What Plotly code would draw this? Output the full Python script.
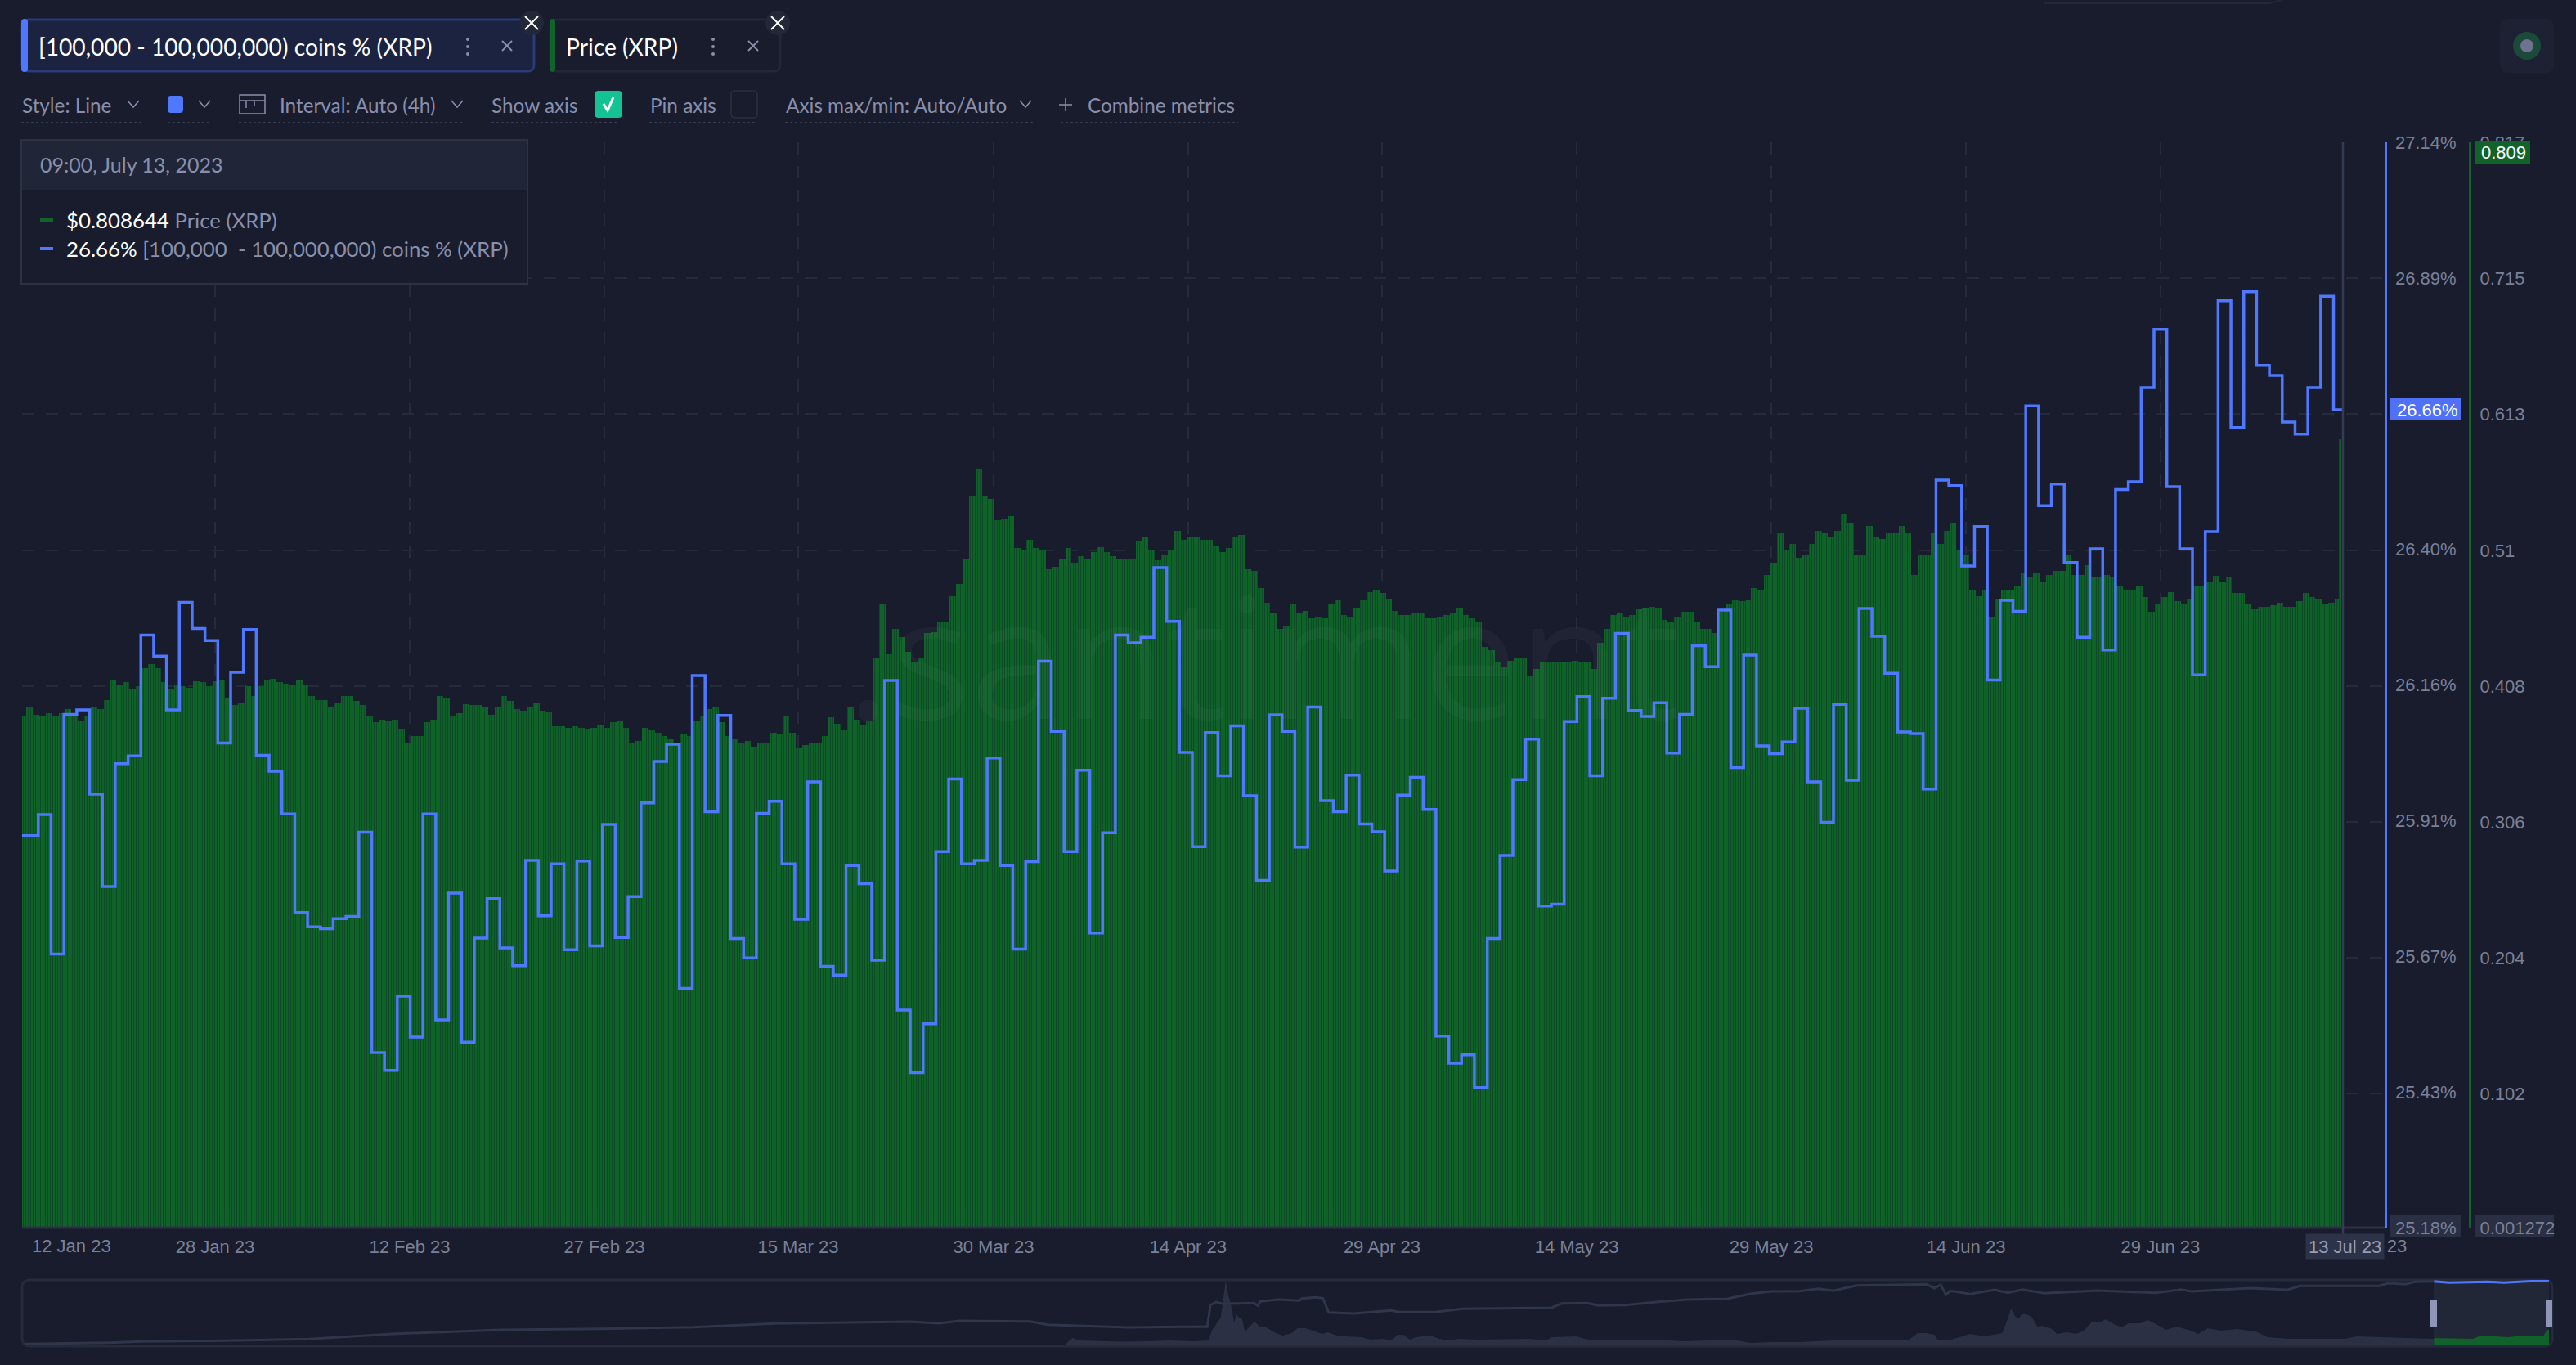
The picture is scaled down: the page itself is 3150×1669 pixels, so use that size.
"""XRP whale-tier supply share vs price, dashboard style screenshot."""

import pandas as pd
import plotly.graph_objects as go

W, H = 3150, 1669
BG = "#181c2d"
GRID = "#262b3c"
BLUE = "#4f78ff"
GREEN = "#10632a"
GREY_TXT = "#8a8fab"
TICK_TXT = "#7b8197"
UI_FONT = "Lato"
TICK_FONT = "Liberation Sans"

# supply share, one value per day (%)
share_jan_mar = [
    25.888, 25.926, 25.674, 26.107, 26.115, 25.963, 25.796, 26.018, 26.032, 26.250,
    26.212, 26.115, 26.309, 26.262, 26.240, 26.055, 26.183, 26.260, 26.033, 26.004,
    25.927, 25.749, 25.723, 25.720, 25.738, 25.742, 25.894, 25.496, 25.464, 25.598,
    25.524, 25.927, 25.555, 25.784, 25.515, 25.703, 25.774, 25.685, 25.653, 25.843,
    25.743, 25.837, 25.682, 25.842, 25.689, 25.908, 25.704, 25.778, 25.947, 26.022,
    26.053, 25.612, 26.177, 25.931, 26.105, 25.702, 25.667, 25.928, 25.950, 25.837,
    25.737, 25.985,
]
share_mar_may = [
    25.652, 25.636, 25.834, 25.801, 25.663, 26.168, 25.573, 25.460, 25.548, 25.859,
    25.990, 25.837, 25.843, 26.028, 25.834, 25.683, 25.841, 26.203, 26.076, 25.859,
    26.006, 25.712, 25.893, 26.250, 26.236, 26.246, 26.372, 26.275, 26.038, 25.868,
    26.074, 25.996, 26.086, 25.960, 25.807, 26.106, 26.076, 25.867, 26.120, 25.951,
    25.931, 25.997, 25.909, 25.895, 25.824, 25.961, 25.993, 25.935, 25.526, 25.477,
    25.492, 25.433, 25.702, 25.852, 25.989, 26.062, 25.761, 25.764, 26.094, 26.139,
    25.996, 26.136, 26.253, 26.114,
]
share_may_jul = [
    26.103, 26.128, 26.037, 26.107, 26.231, 26.193, 26.295, 26.011, 26.214, 26.050,
    26.036, 26.057, 26.118, 25.985, 25.912, 26.125, 25.988, 26.298, 26.248, 26.181,
    26.075, 26.072, 25.972, 26.530, 26.520, 26.375, 26.446, 26.169, 26.313, 26.293,
    26.664, 26.484, 26.523, 26.381, 26.246, 26.406, 26.223, 26.513, 26.527, 26.697,
    26.802, 26.518, 26.406, 26.178, 26.437, 26.854, 26.625, 26.870, 26.737, 26.719,
    26.635, 26.613, 26.697, 26.862, 26.657,
]

# price, read every 12 hours (USD)
price_jan_mar = [
    .386, .393, .387, .386, .388, .386, .388, .391, .386, .382,
    .386, .393, .391, .398, .413, .409, .411, .406, .408, .422,
    .425, .422, .411, .406, .409, .408, .407, .412, .411, .408,
    .412, .413, .399, .394, .396, .408, .401, .408, .413, .414,
    .411, .410, .409, .413, .409, .401, .398, .398, .393, .396,
    .401, .401, .397, .394, .386, .381, .383, .382, .383, .376,
    .365, .371, .371, .381, .383, .401, .399, .386, .388, .395,
    .394, .394, .393, .387, .393, .401, .397, .391, .390, .392,
    .396, .390, .389, .378, .378, .377, .378, .377, .376, .377,
    .379, .377, .381, .382, .377, .365, .367, .377, .375, .373,
    .371, .368, .365, .372, .371, .382, .386, .391, .393, .381,
    .371, .369, .365, .367, .363, .365, .365, .373, .372, .386,
    .373, .362, .364, .365,
]
price_mar_may = [
    .366, .371, .385, .380, .375, .393, .383, .379, .382, .429,
    .470, .432, .451, .445, .434, .426, .429, .448, .449, .457,
    .457, .476, .485, .504, .551, .572, .551, .549, .533, .534,
    .536, .512, .510, .518, .512, .510, .496, .498, .504, .512,
    .501, .506, .504, .509, .513, .509, .506, .504, .504, .504,
    .517, .520, .510, .503, .507, .510, .525, .518, .520, .520,
    .518, .518, .514, .509, .512, .520, .522, .496, .495, .482,
    .471, .463, .451, .454, .470, .463, .465, .459, .460, .459,
    .470, .473, .462, .460, .467, .473, .479, .480, .478, .474,
    .465, .462, .462, .463, .463, .459, .459, .460, .462, .463,
    .467, .462, .459, .457, .438, .435, .426, .423, .427, .429,
    .429, .416, .421, .426, .426, .426, .426, .426, .427, .426,
    .426, .421, .441, .451, .462, .463, .460, .462,
]
price_may_jul = [
    .466, .467, .468, .467, .458, .456, .460, .464, .464, .456,
    .451, .451, .448, .464, .470, .473, .472, .473, .482, .480,
    .492, .501, .523, .511, .515, .505, .507, .515, .525, .523,
    .521, .525, .537, .531, .507, .507, .529, .521, .519, .523,
    .523, .529, .523, .492, .507, .507, .523, .515, .525, .531,
    .511, .507, .480, .476, .480, .460, .474, .480, .480, .484,
    .493, .490, .493, .486, .492, .495, .495, .507, .492, .492,
    .499, .490, .490, .492, .490, .484, .480, .480, .483, .475,
    .464, .470, .475, .479, .472, .470, .474, .484, .484, .486,
    .491, .486, .490, .478, .478, .470, .466, .468, .468, .469,
    .471, .468, .468, .472, .478, .475, .474, .470, .471, .474,
]
price_last = 0.594

x_ticks = ["2023-01-13 10:40", "2023-01-28 11:50", "2023-02-12 16:10", "2023-02-27 20:30",
           "2023-03-14 23:10", "2023-03-30 05:10", "2023-04-14 09:15", "2023-04-29 12:05",
           "2023-05-14 16:25", "2023-05-29 20:45", "2023-06-14 01:05", "2023-06-29 05:10"]
x_labels = ["", "28 Jan 23", "12 Feb 23", "27 Feb 23", "15 Mar 23", "30 Mar 23",
            "14 Apr 23", "29 Apr 23", "14 May 23", "29 May 23", "14 Jun 23", "29 Jun 23"]
share_ticks = [25.18, 25.425, 25.67, 25.915, 26.16, 26.405, 26.65, 26.895, 27.14]
share_labels = ["25.18%", "25.43%", "25.67%", "25.91%", "26.16%", "26.40%", "", "26.89%", "27.14%"]
price_ticks = [0.001272, 0.102, 0.204, 0.306, 0.408, 0.51, 0.613, 0.715, 0.817]
price_labels = ["0.001272", "0.102", "0.204", "0.306", "0.408", "0.51", "0.613", "0.715", "0.817"]

# navigator strip: days since the start of history, heights in strip units
nav_days = [5, 136, 187, 319, 449, 580, 749, 906, 1050, 1180, 1389, 1435, 1467, 1578, 1605, 1677,
            1729, 1852, 1855, 1860, 1869, 1878, 1928, 1934, 1938, 1966, 1999, 2003, 2025, 2036,
            2045, 2084, 2143, 2155, 2214, 2254, 2339, 2394, 2410, 2450, 2467, 2509, 2561, 2606,
            2669, 2705, 2737, 2781, 2812, 2835, 2871, 2975, 2981, 2993, 3003, 3011, 3018, 3049,
            3087, 3108, 3131, 3165, 3247, 3340, 3379, 3395, 3488, 3546, 3565, 3689, 3704, 3731,
            3744, 3775]
nav_share = [1.7, 3.3, 4.7, 5.7, 7.7, 14, 19, 20.3, 22.3, 26.7, 29, 27, 30, 29.3, 25.3, 23,
             22, 23, 22.7, 49.3, 53, 51, 51.7, 48.7, 53.7, 56, 54.7, 57.3, 58.7, 57.7,
             40.3, 39, 42.7, 40.7, 41, 44.7, 45.7, 46, 51.3, 51.7, 48.7, 49.3, 53.3, 56,
             57, 63, 66, 66.3, 69.3, 66.7, 73.3, 74, 74.7, 70, 74, 62, 66.7, 62.7,
             68, 64.3, 68.3, 63.7, 67, 64.3, 68.3, 66, 70, 68, 72.7, 72.7, 76, 74.7,
             77.7, 78.3]
nav_sel_days = [3775, 3798, 3859, 3884, 3955]
nav_sel_share = [78.3, 76.7, 77.7, 76.7, 79.7]
nav_bar_days = [1631, 1644, 1655, 1687, 1719, 1758, 1796, 1834, 1857, 1862, 1871, 1876, 1880, 1884,
                1888, 1892, 1897, 1901, 1905, 1909, 1914, 1921, 1929, 1937, 1947, 1960, 1973, 1987,
                1996, 2009, 2023, 2035, 2043, 2058, 2071, 2097, 2110, 2130, 2143, 2153, 2162, 2172,
                2182, 2204, 2218, 2234, 2248, 2280, 2358, 2385, 2394, 2433, 2450, 2522, 2554, 2600,
                2678, 2705, 2737, 2781, 2852, 2952, 2967, 2981, 2993, 2999, 3018, 3049, 3072, 3099,
                3108, 3113, 3120, 3125, 3130, 3137, 3145, 3154, 3162, 3177, 3185, 3200, 3215, 3227,
                3240, 3251, 3261, 3274, 3286, 3297, 3316, 3327, 3340, 3355, 3372, 3395, 3406, 3421,
                3441, 3467, 3496, 3515, 3549, 3635, 3654, 3697, 3712, 3775]
nav_bar_price = [0, 9, 6, 5, 4.5, 5, 6, 5, 6, 18, 28, 34, 57, 79,
                 61, 50, 28, 38, 33, 34, 17, 23, 29, 23, 22, 16, 12, 15,
                 21, 21, 17, 14, 16, 12, 11, 10, 7, 8, 6, 13, 13, 7,
                 10, 12, 8, 6, 8, 7, 8, 6, 10, 11, 7, 6, 7, 5,
                 7, 3, 4, 4, 6.7, 6.3, 15, 15, 13, 6, 6.7, 14, 11, 15,
                 33, 45, 35, 33, 38, 38, 35, 23, 24, 20, 14, 16, 14, 18,
                 29, 28, 32, 26, 22, 27, 27, 31, 26, 19, 23, 18, 14, 21,
                 18, 20, 17, 10, 8, 8, 11, 10, 9, 8]
nav_sel_bar_days = [3775, 3836, 3848, 3891, 3914, 3946, 3952, 3955]
nav_sel_bar_price = [9, 8, 12, 10, 12, 11, 19, 19]

# day boundaries of the share series, the line runs on to the last sample
share = share_jan_mar + share_mar_may + share_may_jul
share_dates = pd.date_range("2023-01-13 17:00", periods=len(share), freq="D").tolist()
share_dates[0] = pd.Timestamp("2023-01-13 10:40")
share_dates.append(pd.Timestamp("2023-07-13 09:00"))
share.append(share[-1])

# 12h bars, then the final 4h candle on its own width, just left of the crosshair
price = price_jan_mar + price_mar_may + price_may_jul + [price_last]
price_dates = pd.date_range(end="2023-07-13 01:00", periods=len(price) - 1, freq="12h").tolist()
price_dates.append(pd.Timestamp("2023-07-13 05:00"))
price_widths = [43200000] * (len(price) - 1) + [14400000]


def px(x):
    return x / W


def py(y):
    return 1 - y / H


shapes = []
annotations = []


def rect(x0, y0, x1, y1, fill=None, line=None, lw=0, layer="above"):
    shapes.append(dict(type="rect", xref="paper", yref="paper", x0=px(x0), x1=px(x1), y0=py(y0), y1=py(y1),
                       fillcolor=fill, line=dict(color=line, width=lw), layer=layer))


def round_rect(x0, y0, x1, y1, r, fill=None, line=None, lw=0, layer="above"):
    p = (f"M {px(x0 + r)} {py(y0)} L {px(x1 - r)} {py(y0)} Q {px(x1)} {py(y0)} {px(x1)} {py(y0 + r)} "
         f"L {px(x1)} {py(y1 - r)} Q {px(x1)} {py(y1)} {px(x1 - r)} {py(y1)} L {px(x0 + r)} {py(y1)} "
         f"Q {px(x0)} {py(y1)} {px(x0)} {py(y1 - r)} L {px(x0)} {py(y0 + r)} Q {px(x0)} {py(y0)} {px(x0 + r)} {py(y0)} Z")
    shapes.append(dict(type="path", xref="paper", yref="paper", path=p, fillcolor=fill,
                       line=dict(color=line, width=lw), layer=layer))


def seg(pts, color, lw=2, dash=None, layer="above"):
    p = "M " + " L ".join(f"{px(x)} {py(y)}" for x, y in pts)
    shapes.append(dict(type="path", xref="paper", yref="paper", path=p,
                       line=dict(color=color, width=lw, dash=dash), layer=layer))


def circle(cx, cy, r, fill):
    shapes.append(dict(type="circle", xref="paper", yref="paper", x0=px(cx - r), x1=px(cx + r),
                       y0=py(cy + r), y1=py(cy - r), fillcolor=fill, line=dict(width=0), layer="above"))


def text(x, y, s, color=GREY_TXT, size=24.3, anchor="left", font=UI_FONT, **kw):
    annotations.append(dict(xref="paper", yref="paper", x=px(x), y=py(y), text=s, showarrow=False,
                            xanchor=anchor, yanchor="middle", font=dict(family=font, size=size, color=color), **kw))


def chevron(x, y):
    seg([(x - 7, y - 4), (x, y + 4), (x + 7, y - 4)], GREY_TXT, 1.5)


def cross(x, y, r, color, lw=2):
    seg([(x - r, y - r), (x + r, y + r)], color, lw)
    seg([(x - r, y + r), (x + r, y - r)], color, lw)


def dots(x, y):
    for dy in (-9, 0, 9):
        circle(x, y + dy, 2, GREY_TXT)


# metric chips
round_rect(27, 24, 653, 87, 8, fill="#1c2340", line="#2b3a78", lw=3)
round_rect(26, 23, 34, 88, 4, fill=BLUE)
text(45, 57, "[100,000 - 100,000,000) coins % (XRP)", color="#ffffff", size=28.2)
dots(572, 57)
cross(620, 56, 6, GREY_TXT)
circle(650, 28, 15, "#222838")
cross(650, 28, 8, "#ffffff")
round_rect(673, 24, 954, 87, 8, line="#232839", lw=3)
round_rect(672, 23, 679, 88, 4, fill=GREEN)
text(690, 57, "Price (XRP)", color="#ffffff", size=28.2)
dots(872, 57)
cross(921, 56, 6, GREY_TXT)
circle(951, 28, 15, "#222838")
cross(951, 28, 8, "#ffffff")

# control row
text(25, 128, "Style: Line")
chevron(163, 127)
round_rect(205, 117, 224, 138, 4, fill=BLUE)
chevron(250, 127)
rect(293, 116, 324, 139, line=GREY_TXT, lw=1.5)
seg([(293, 123), (324, 123)], GREY_TXT, 1.5)
seg([(301, 123), (301, 132)], GREY_TXT, 1.5)
seg([(311, 123), (311, 130)], GREY_TXT, 1.5)
text(340, 128, "Interval: Auto (4h)")
chevron(559, 127)
text(599, 128, "Show axis")
round_rect(727, 111, 761, 144, 5, fill="#14c393")
seg([(738, 127), (743, 135), (750, 119)], "#ffffff", 3)
text(793, 128, "Pin axis")
round_rect(894, 111, 926, 144, 5, line="#262b3c", lw=2)
text(959, 128, "Axis max/min: Auto/Auto")
chevron(1254, 127)
seg([(1303, 120), (1303, 136)], GREY_TXT, 1.5)
seg([(1295, 128), (1311, 128)], GREY_TXT, 1.5)
text(1328, 128, "Combine metrics")
for x0, x1 in [(26, 172), (205, 259), (292, 567), (601, 757), (794, 925), (960, 1263), (1297, 1514)]:
    seg([(x0, 150), (x1, 150)], "#343a50", 2, dash="3px,3px")

# tooltip
rect(26, 171, 645, 347, fill=BG, line="#2c3144", lw=2)
rect(27, 172, 644, 232, fill="#202537")
text(47, 201, "09:00, July 13, 2023", size=25)
seg([(49, 269), (65, 269)], GREEN, 4)
text(79, 269, '<span style="color:#ffffff">$0.808644</span> Price (XRP)', size=25.8)
seg([(49, 304), (65, 304)], BLUE, 4)
text(79, 304, '<span style="color:#ffffff">26.66%</span> [100,000  - 100,000,000) coins % (XRP)', size=25.8)

# status badge top right and stray tab edge
round_rect(3057, 23, 3123, 89, 10, fill="#1d2133")
circle(3090, 56, 17, "#1b4a3a")
circle(3090, 56, 8, "#6d7391")
seg([(2500, 4), (2775, 4), (2790, 0)], "#232839", 2)

# watermark
text(1545, 800, ".santiment", color="rgba(255,255,255,0.03)", size=205, anchor="center", font="Open Sans")

# chart furniture around the axes
seg([(27, 1501), (2916, 1501)], "#2c3144", 3)
seg([(2865, 174), (2865, 1511)], "#353c52", 2.5)
rect(2923, 487, 3009, 514, fill="#5070f8")
text(2929, 501, "26.66%", color="#ffffff", size=22, font=TICK_FONT)
rect(3026, 173, 3094, 200, fill="#116329")
text(3032, 187, "0.809", color="#ffffff", size=22, font=TICK_FONT)
rect(2923, 1486, 3009, 1513, fill="#2a2f44", layer="below")
rect(3026, 1486, 3123, 1513, fill="#2a2f44", layer="below")

text(37, 1523, "12 Jan 23", color=TICK_TXT, size=22, font=TICK_FONT)
text(2852, 1523, "14 Jul 23", color=TICK_TXT, size=22, font=TICK_FONT)
text(2819, 1524, "13 Jul 23", color="#989db5", size=22, font=TICK_FONT, bgcolor="#2c3248", borderpad=3)

# navigator frame, selection and handles
round_rect(27, 1565, 3121, 1646, 10, line="#262b3c", lw=3, layer="below")
rect(2976, 1566, 3117, 1645, fill="#222738", layer="below")
rect(2972, 1590, 2980, 1622, fill="#8f96b8")
rect(3113, 1590, 3121, 1622, fill="#8f96b8")

fig = go.Figure()
fig.add_trace(go.Bar(
    x=price_dates, y=price, width=price_widths, xaxis="x", yaxis="y", marker_line_width=0,
    marker=dict(color="#0f5f29", pattern=dict(shape="|", size=3, solidity=0.4, fgcolor="#0e4a28", bgcolor="#0f6629")),
))
fig.add_trace(go.Scatter(
    x=share_dates, y=share, mode="lines", xaxis="x", yaxis="y2",
    line=dict(color=BLUE, width=3.5, shape="hv"),
))
# navigator
fig.add_trace(go.Scatter(x=nav_bar_days, y=nav_bar_price, mode="lines", xaxis="x3", yaxis="y3",
                         line=dict(width=0), fill="tozeroy", fillcolor="#2b3044"))
fig.add_trace(go.Scatter(x=nav_sel_bar_days, y=nav_sel_bar_price, mode="lines", xaxis="x3", yaxis="y3",
                         line=dict(width=0), fill="tozeroy", fillcolor="#10612a"))
fig.add_trace(go.Scatter(x=nav_days, y=nav_share, mode="lines", xaxis="x3", yaxis="y3",
                         line=dict(color="#2f354a", width=3)))
fig.add_trace(go.Scatter(x=nav_sel_days, y=nav_sel_share, mode="lines", xaxis="x3", yaxis="y3",
                         line=dict(color=BLUE, width=3)))

fig.update_layout(
    template="none",
    width=W, height=H, margin=dict(l=0, r=0, t=0, b=0, pad=0), autosize=False,
    paper_bgcolor=BG, plot_bgcolor=BG, showlegend=False, bargap=0, barmode="overlay",
    shapes=shapes, annotations=annotations,
    xaxis=dict(
        type="date", domain=[px(27), px(2916)], range=["2023-01-13 10:40", "2023-07-16 16:40"],
        tickmode="array", tickvals=x_ticks, ticktext=x_labels, ticks="outside", ticklen=4,
        tickcolor="rgba(0,0,0,0)", tickfont=dict(family=TICK_FONT, size=22, color=TICK_TXT),
        showgrid=True, gridcolor=GRID, griddash="15px,14px", gridwidth=2, zeroline=False,
        showline=False, automargin=False,
    ),
    yaxis=dict(
        domain=[py(1501), py(174)], range=[0.001272, 0.817], side="right", anchor="free",
        position=px(3020), tickmode="array", tickvals=price_ticks, ticktext=price_labels,
        ticks="outside", ticklen=6, tickcolor="rgba(0,0,0,0)",
        tickfont=dict(family=TICK_FONT, size=22, color=TICK_TXT),
        showgrid=True, gridcolor=GRID, griddash="15px,14px", gridwidth=2, zeroline=False,
        showline=True, linecolor=GREEN, linewidth=3, automargin=False,
    ),
    yaxis2=dict(
        domain=[py(1501), py(174)], range=[25.18, 27.14], side="right", anchor="free", overlaying="y",
        position=px(2916.5), tickmode="array", tickvals=share_ticks, ticktext=share_labels,
        ticks="outside", ticklen=6, tickcolor="rgba(0,0,0,0)",
        tickfont=dict(family=TICK_FONT, size=22, color=TICK_TXT),
        showgrid=False, zeroline=False, showline=True, linecolor=BLUE, linewidth=3, automargin=False,
    ),
    xaxis3=dict(domain=[px(27), px(3117)], range=[0, 3955], visible=False, anchor="y3"),
    yaxis3=dict(domain=[py(1645), py(1565)], range=[0, 80], visible=False, anchor="x3"),
)

fig.write_html("out.html", config={"displayModeBar": False},
               post_script="document.body.style.margin = '0';")
